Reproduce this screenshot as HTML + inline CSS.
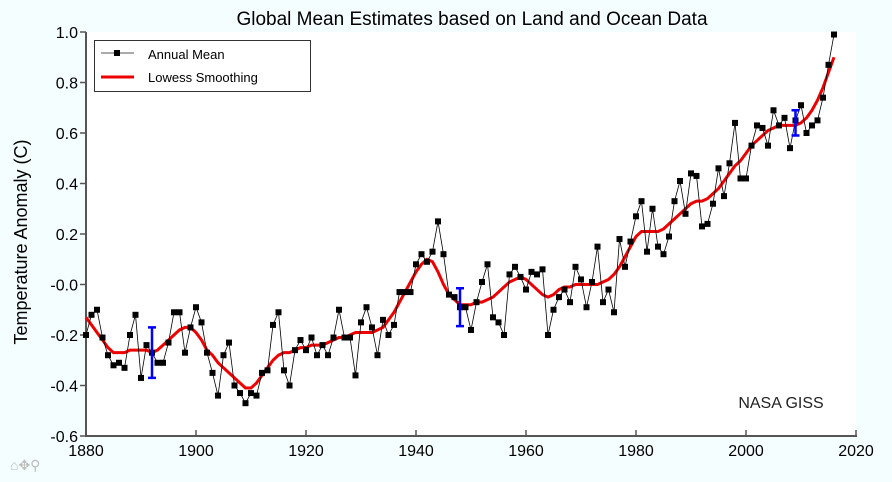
<!DOCTYPE html>
<html><head><meta charset="utf-8"><style>
html,body{margin:0;padding:0;background:#f5feff;}
svg{display:block;font-family:"Liberation Sans",sans-serif;}
</style></head><body>
<svg id="chart" width="892" height="482" xmlns="http://www.w3.org/2000/svg">
<rect width="892" height="482" fill="#f5feff"/>
<rect x="86" y="32" width="770" height="404" fill="#fff"/>
<text x="472" y="25" font-size="19" text-anchor="middle">Global Mean Estimates based on Land and Ocean Data</text>
<text transform="translate(27,242) rotate(-90)" font-size="18" text-anchor="middle">Temperature Anomaly (C)</text>
<g id="axes"></g>
<g id="smooth"></g>
<g id="annual"></g>
<g id="errs"></g>
<text x="781" y="408" font-size="16" text-anchor="middle" fill="#222">NASA GISS</text>
<g>
<rect x="94.5" y="40.5" width="216" height="51" fill="#fff" stroke="#333" stroke-width="1"/>
<line x1="101" y1="53" x2="134" y2="53" stroke="#555"/>
<rect x="114" y="50" width="6" height="6" fill="#000"/>
<text x="148" y="59" font-size="13">Annual Mean</text>
<line x1="101" y1="77" x2="134" y2="77" stroke="#e00" stroke-width="3"/>
<text x="148" y="82" font-size="13">Lowess Smoothing</text>
</g>
<text x="10" y="470" font-size="14" fill="#bbb">⌂✥⚲</text>
</svg>
<script>
const years=[];for(let y=1880;y<=2016;y++)years.push(y);
const annual=[-0.20,-0.12,-0.10,-0.21,-0.28,-0.32,-0.31,-0.33,-0.20,-0.12,-0.37,-0.24,-0.27,-0.31,-0.31,-0.23,-0.11,-0.11,-0.27,-0.17,-0.09,-0.15,-0.27,-0.35,-0.44,-0.28,-0.23,-0.40,-0.43,-0.47,-0.43,-0.44,-0.35,-0.34,-0.16,-0.11,-0.34,-0.40,-0.26,-0.22,-0.26,-0.21,-0.28,-0.24,-0.28,-0.21,-0.10,-0.21,-0.21,-0.36,-0.15,-0.09,-0.17,-0.28,-0.14,-0.20,-0.16,-0.03,-0.03,-0.03,0.08,0.12,0.09,0.13,0.25,0.12,-0.04,-0.05,-0.09,-0.09,-0.18,-0.07,0.01,0.08,-0.13,-0.15,-0.20,0.04,0.07,0.03,-0.02,0.05,0.04,0.06,-0.20,-0.10,-0.05,-0.02,-0.07,0.07,0.02,-0.09,0.01,0.15,-0.07,-0.02,-0.11,0.18,0.07,0.17,0.27,0.33,0.13,0.30,0.15,0.12,0.19,0.33,0.41,0.28,0.44,0.43,0.23,0.24,0.32,0.46,0.35,0.48,0.64,0.42,0.42,0.55,0.63,0.62,0.55,0.69,0.63,0.66,0.54,0.65,0.71,0.60,0.63,0.65,0.74,0.87,0.99];
const lowess=[-0.13,-0.16,-0.19,-0.22,-0.25,-0.27,-0.27,-0.27,-0.26,-0.26,-0.26,-0.26,-0.27,-0.26,-0.24,-0.22,-0.20,-0.18,-0.17,-0.17,-0.19,-0.22,-0.26,-0.28,-0.31,-0.33,-0.35,-0.37,-0.39,-0.41,-0.41,-0.39,-0.36,-0.33,-0.30,-0.28,-0.27,-0.27,-0.26,-0.25,-0.25,-0.24,-0.24,-0.24,-0.23,-0.22,-0.21,-0.21,-0.20,-0.19,-0.19,-0.19,-0.19,-0.18,-0.17,-0.14,-0.11,-0.07,-0.03,0.01,0.05,0.08,0.10,0.09,0.05,0.00,-0.04,-0.06,-0.08,-0.08,-0.08,-0.07,-0.07,-0.06,-0.05,-0.03,-0.01,0.01,0.02,0.03,0.02,0.00,-0.02,-0.04,-0.05,-0.04,-0.02,-0.01,-0.01,0.00,0.00,0.00,0.00,0.00,0.01,0.02,0.04,0.07,0.11,0.15,0.19,0.21,0.21,0.21,0.21,0.22,0.24,0.26,0.28,0.30,0.32,0.33,0.33,0.34,0.36,0.38,0.41,0.44,0.47,0.49,0.52,0.55,0.57,0.59,0.61,0.62,0.63,0.63,0.63,0.63,0.64,0.66,0.69,0.73,0.78,0.84,0.90];
const errYears=[1892,1948,2009];
const errCenters=[-0.27,-0.09,0.64];
const errHalf=[0.10,0.075,0.05];
const xTicks=[1880,1900,1920,1940,1960,1980,2000,2020];
const yTicks=[-0.6,-0.4,-0.2,0.0,0.2,0.4,0.6,0.8,1.0];
const yTickLabels=["-0.6","-0.4","-0.2","-0.0","0.2","0.4","0.6","0.8","1.0"];
const X0=86,X1=856,Y0=436,Y1=32;
const sx=v=>X0+(v-1880)/140*(X1-X0);
const sy=v=>Y0-(v+0.6)/1.6*(Y0-Y1);
const NS="http://www.w3.org/2000/svg";
function mk(tag,attrs,parent){const e=document.createElementNS(NS,tag);for(const k in attrs)e.setAttribute(k,attrs[k]);parent.appendChild(e);return e;}
const axes=document.getElementById('axes');
let e=mk('line',{x1:X0,y1:Y1,x2:X0,y2:Y0+1,stroke:'#555','stroke-width':2},axes);


e=mk('line',{x1:X0-1,y1:Y0,x2:X1+1,y2:Y0,stroke:'#555','stroke-width':2},axes);


xTicks.forEach(t=>{
 const x=sx(t);
 let l=mk('line',{x1:x,y1:Y0,x2:x,y2:Y0-6,stroke:'#555','stroke-width':1.5},axes);
 
 
 let tx=mk('text',{x:x,y:Y0+20,'font-size':16,'text-anchor':'middle'},axes);
 tx.textContent=t;
 
 
});
yTicks.forEach((t,i)=>{
 const y=sy(t);
 let l=mk('line',{x1:X0-6,y1:y,x2:X0,y2:y,stroke:'#555','stroke-width':1.5},axes);
 
 
 let tx=mk('text',{x:X0-8,y:y+6,'font-size':16,'text-anchor':'end'},axes);
 tx.textContent=yTickLabels[i];
 
 
});
const sm=document.getElementById('smooth');
let p=mk('polyline',{points:years.map((y,i)=>sx(y)+','+sy(lowess[i])).join(' '),fill:'none',stroke:'#e00','stroke-width':3},sm);


const an=document.getElementById('annual');
p=mk('polyline',{points:years.map((y,i)=>sx(y)+','+sy(annual[i])).join(' '),fill:'none',stroke:'#000','stroke-width':0.8},an);


years.forEach((y,i)=>{
 const r=mk('rect',{x:sx(y)-3,y:sy(annual[i])-3,width:6,height:6,fill:'#000'},an);
 
 
});
const er=document.getElementById('errs');
errYears.forEach((y,i)=>{
 const x=sx(y),a=sy(errCenters[i]+errHalf[i]),b=sy(errCenters[i]-errHalf[i]);
 const g=mk('path',{d:`M${x},${a}V${b}M${x-4},${a}H${x+4}M${x-4},${b}H${x+4}`,stroke:'#00f','stroke-width':2.5,fill:'none'},er);
 
 
});
</script>
</body></html>
